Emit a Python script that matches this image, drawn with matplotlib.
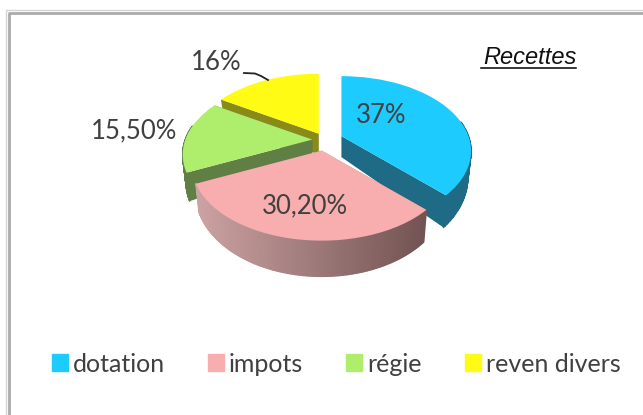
import numpy as np
import matplotlib
matplotlib.use("Agg")
import matplotlib.pyplot as plt
from matplotlib.collections import PolyCollection
from matplotlib.colors import LinearSegmentedColormap
from matplotlib.patches import Patch
from matplotlib.transforms import Affine2D, Transform

categories = ["dotation", "impots", "régie", "reven divers"]
values = [37, 30.2, 15.5, 16]
value_labels = ["37%", "30,20%", "15,50%", "16%"]
explode = [0.14, 0.15, 0.10, 0.10]
top_colors = ["#1ECBFF", "#F8AEAE", "#AEEE6C", "#FFFB14"]
wall_colors = ["#1F6A85", "#A07C7C", "#5F7F45", "#8A8A18"]

W, H = 643, 415
CX, CY = 325, 140      # pie centre, pixels
B, A, K = 127, 72, 0.2  # horizontal / vertical radius, perspective
TEXT = "#404040"
FONT = ["Lato", "DejaVu Sans"]


class Persp(Transform):
    input_dims = output_dims = 2

    def transform_non_affine(self, v):
        v = np.asarray(v, dtype=float)
        den = 1 + K * v[:, 1]
        return np.c_[B * v[:, 0] / den, A * v[:, 1] / den]


fig = plt.figure(figsize=(W / 100, H / 100), dpi=100)
ax = fig.add_axes([0, 0, 1, 1])
wedges, _ = ax.pie(values, colors=top_colors, startangle=90, counterclock=False)
ax.set_aspect("auto")
ax.set_xlim(0, W)
ax.set_ylim(H, 0)
ax.axis("off")

pink_cmap = LinearSegmentedColormap.from_list("pinkwall", ["#CDA2A2", "#9F7B7B", "#735353"])
persp = Persp()


def rim(theta, apex):
    """Top and bottom rim points, in pixels, for angles theta (degrees)."""
    t = np.radians(theta)
    xy = persp.transform_non_affine(np.c_[np.cos(t), np.sin(t)])
    y = np.sin(t)
    depth = 23 - 15 * y
    top = np.c_[apex[0] + xy[:, 0], apex[1] - xy[:, 1]]
    bot = np.c_[apex[0] + 0.975 * xy[:, 0], apex[1] - 0.975 * xy[:, 1] + depth]
    return top, bot, y


for i, w in enumerate(wedges):
    mid = np.radians((w.theta1 + w.theta2) / 2)
    apex = (CX + explode[i] * B * np.cos(mid), CY - explode[i] * A * np.sin(mid))
    z = {3: 2, 2: 4, 0: 6, 1: 8}[i]

    # top face: the pie wedge itself, projected
    w.set_transform(persp + Affine2D().scale(1, -1).translate(*apex) + ax.transData)
    w.set_zorder(z + 1)
    w.set_linewidth(0)

    theta = np.linspace(w.theta1, w.theta2, 120)
    top, bot, y = rim(theta, apex)

    # the two cut faces
    apex_bot = (apex[0], apex[1] + 21)
    for k in (0, -1):
        ax.fill([apex[0], top[k, 0], bot[k, 0], apex_bot[0]],
                [apex[1], top[k, 1], bot[k, 1], apex_bot[1]],
                color=wall_colors[i], lw=0, zorder=z)

    # outer wall, front part only
    idx = [j for j in range(len(theta) - 1) if y[j] < 0.2]
    quads = [np.array([top[j], top[j + 1], bot[j + 1], bot[j]]) for j in idx]
    if not quads:
        continue
    if i == 1:
        xs = top[idx, 0]
        cols = pink_cmap((xs - xs.min()) / (xs.max() - xs.min()))
    else:
        cols = [wall_colors[i]] * len(quads)
    ax.add_collection(PolyCollection(quads, facecolors=cols, edgecolors=cols, linewidths=1.0, zorder=z + 0.5))

# value labels
lab_font = dict(family=FONT, color=TEXT, fontsize=18.5, ha="center", va="center", zorder=20)
label_pos = [(381, 115), (305, 206), (134, 131), (216, 63)]
for s, (x, y) in zip(value_labels, label_pos):
    ax.text(x, y, s, **lab_font)

# leader line for the 16% label
ax.plot([244, 255, 261, 268], [73, 73.5, 76, 80], color="#222222", lw=1.3, zorder=20)

# title
ax.text(529.5, 58, "Recettes", family="Liberation Sans", style="italic", fontsize=17,
        color="#111111", ha="center", va="center", zorder=20)
ax.plot([481, 576], [68.5, 68.5], color="black", lw=1.1, zorder=20)

# frame (open on the right and at the bottom)
ax.plot([5.5, 5.5, W], [H, 10.5, 10.5], color="#D4D4D4", lw=1.0, zorder=30)
ax.plot([8.5, 8.5, W], [H, 13.5, 13.5], color="#ABABAB", lw=2.0, zorder=30)

# legend
handles = [Patch(color=c) for c in top_colors]
fs = 18.0
px = fs * 100 / 72
leg = ax.legend(handles, categories, ncols=4, frameon=False, loc="center left",
                bbox_to_anchor=(52, 364), bbox_transform=ax.transData,
                prop={"family": FONT, "size": fs}, labelcolor=TEXT,
                borderaxespad=0, borderpad=0,
                handlelength=16 / px, handleheight=16 / px,
                handletextpad=5 / px, columnspacing=43 / px)

fig.savefig("out.png", dpi=100)
